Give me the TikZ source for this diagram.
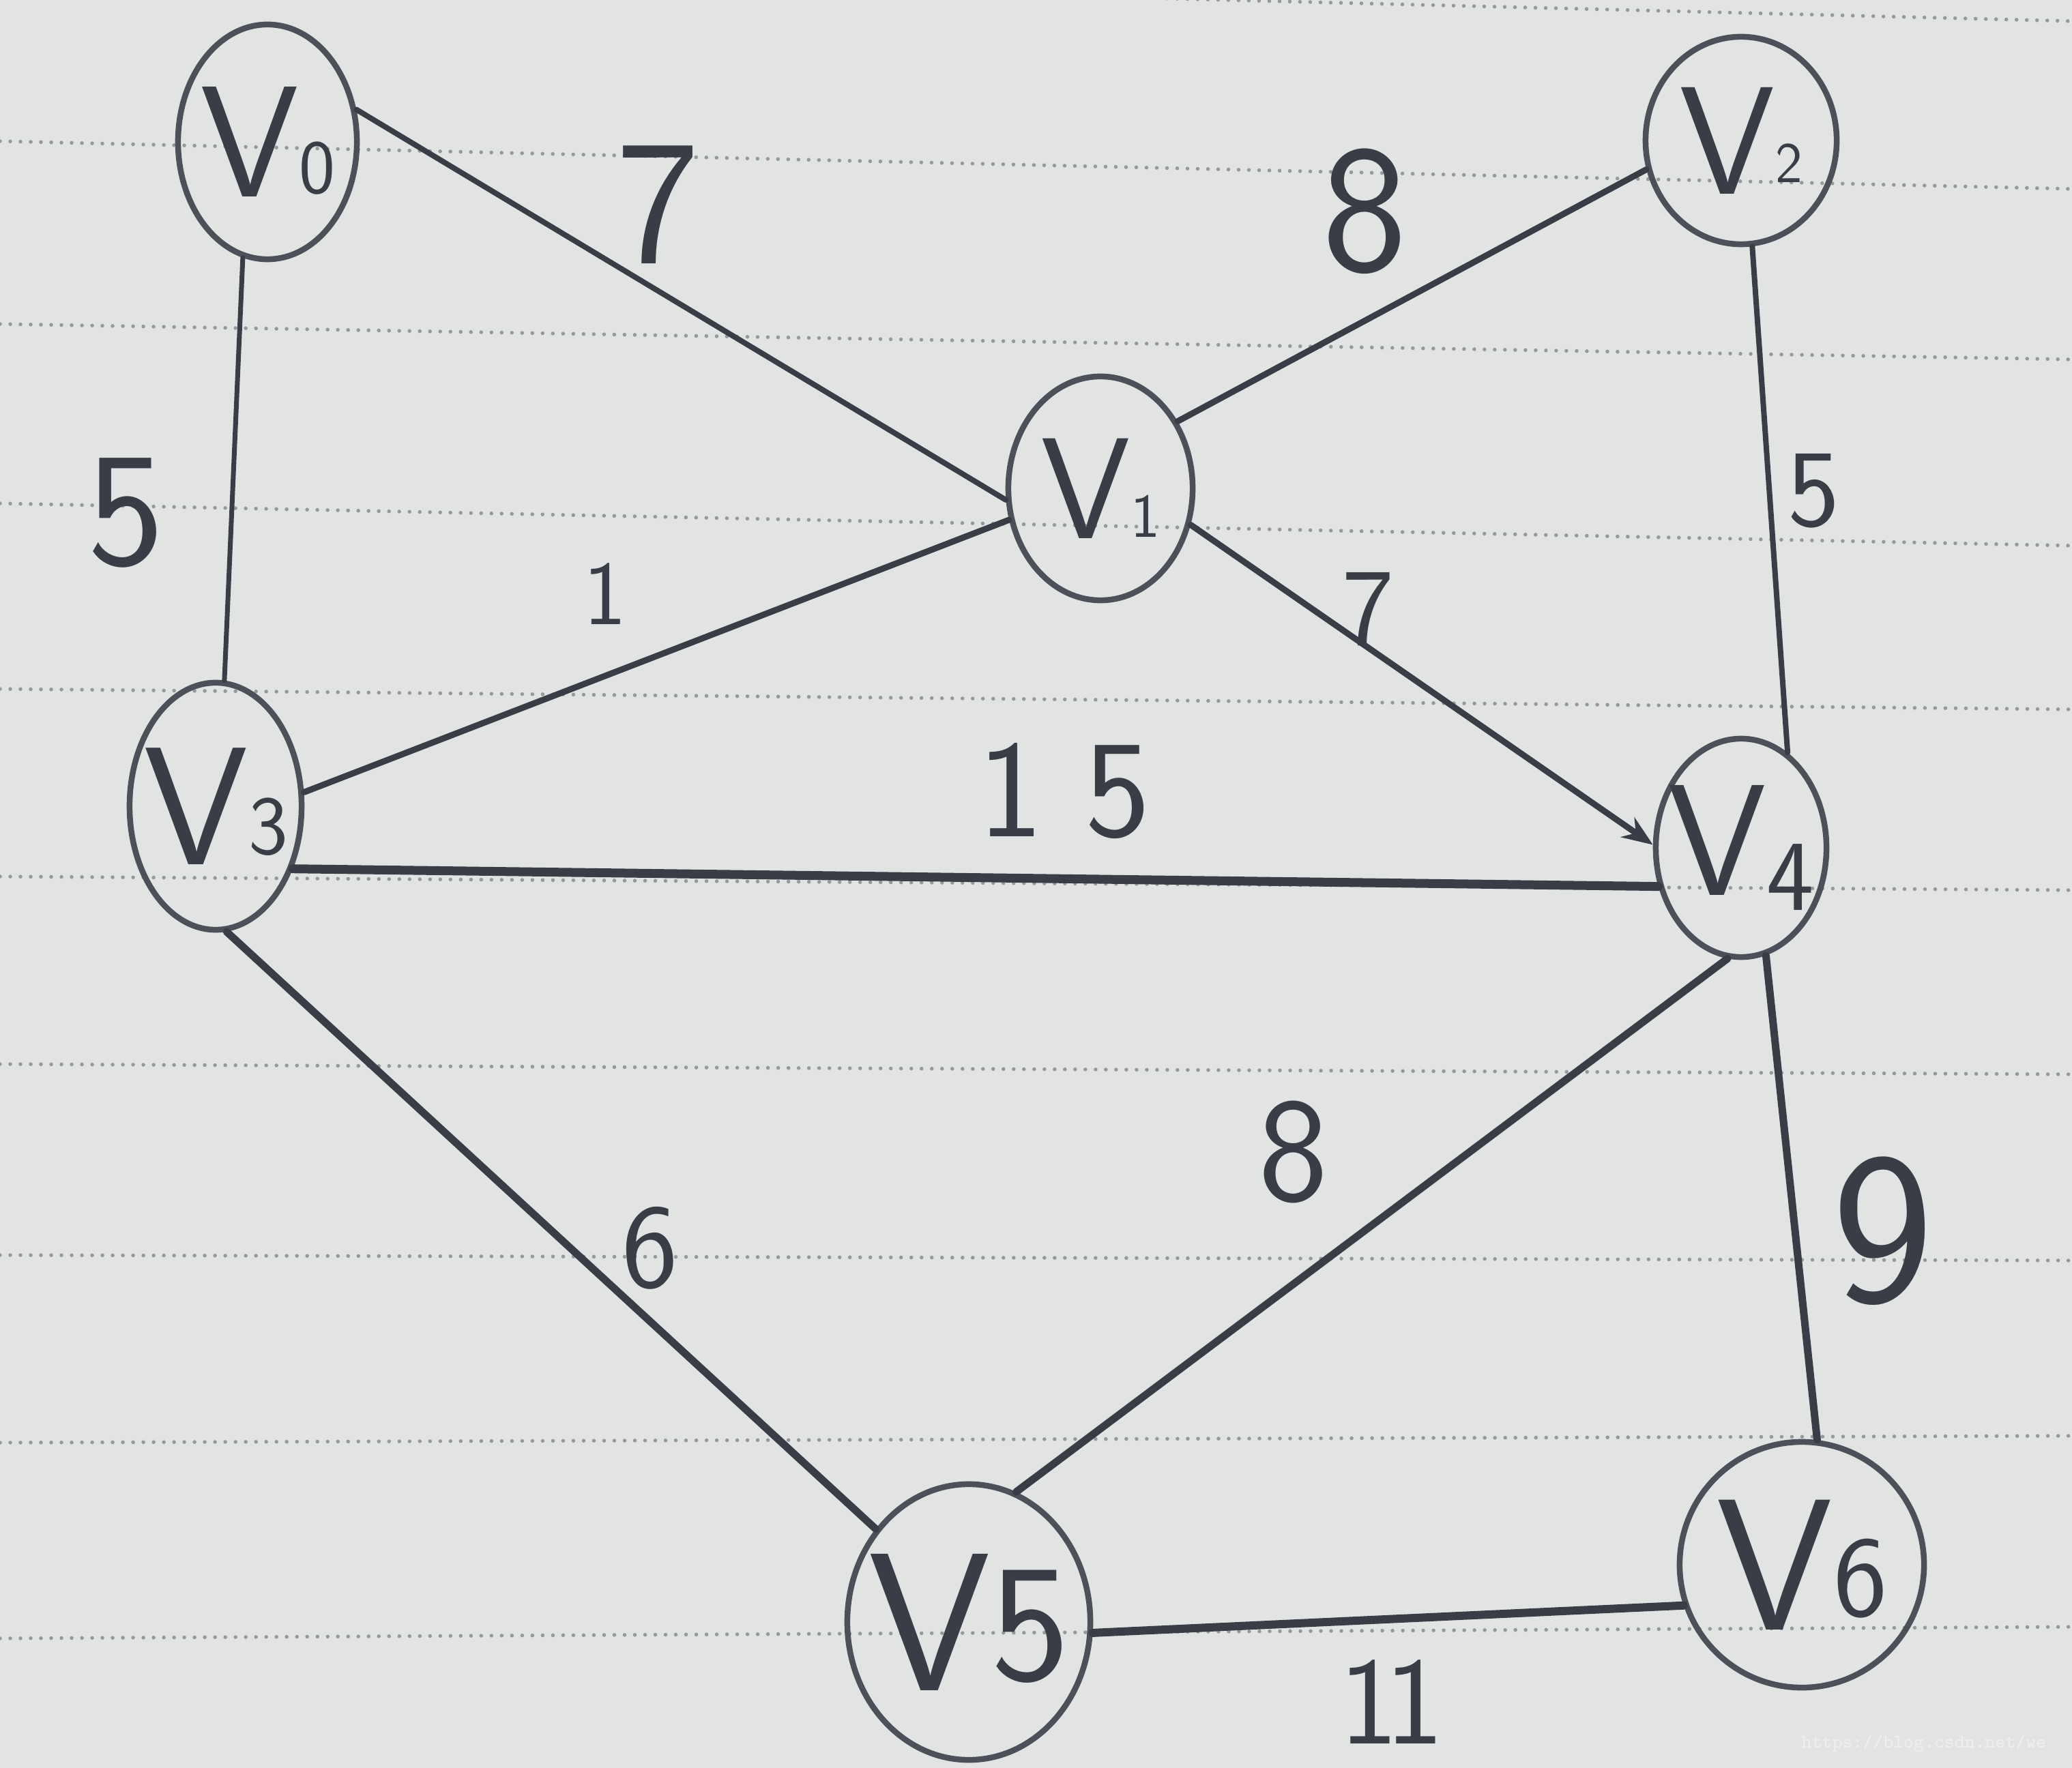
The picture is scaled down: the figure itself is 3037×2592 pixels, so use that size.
\documentclass[tikz,border=0pt]{standalone}
\usepackage{fontspec}
\setmainfont{Latin Modern Sans}
\usetikzlibrary{shapes.geometric,arrows.meta}
\definecolor{paper}{RGB}{226,228,228}
\definecolor{ink}{RGB}{56,61,70}
\definecolor{inkl}{RGB}{76,81,89}
\definecolor{dotc}{RGB}{150,153,154}
\definecolor{wmark}{RGB}{238,240,240}
\newcommand\vlab[4]{\makebox[0pt]{\fontsize{#1}{#1}\selectfont V\raisebox{#4}{\fontsize{#2}{#2}\selectfont #3}}}
\newcommand\fs[1]{\fontsize{#1}{#1}\selectfont}
\begin{document}
\begin{tikzpicture}[x=0.01cm,y=-0.01cm,
  vert/.style={ellipse,draw=inkl,line width=0.085cm,inner sep=0pt,text=ink},
  edge/.style={draw=ink,line width=0.09cm,line cap=round},
  wlabel/.style={text=ink,inner sep=0pt},
  ruled/.style={draw=dotc,line width=0.055cm,line cap=round,dash pattern=on 0pt off 0.15cm}]
\useasboundingbox (0,0) rectangle (3037,2592);
\fill[paper] (0,0) rectangle (3037,2592);
\clip (0,0) rectangle (3037,2592);
% ruled paper lines
\foreach \a/\b in {-45/31, 207/277, 475/527, 738/800, 1010/1040, 1285/1305, 1560/1575, 1840/1848, 2115/2105, 2402/2385}
  \draw[ruled] (0,\a) -- (3037,\b);
% vertices
\node[vert,minimum width=2.62cm,minimum height=3.44cm] (v0) at (392,208) {\vlab{66pt}{32pt}{0}{0.05cm}};
\node[vert,minimum width=2.70cm,minimum height=3.28cm] (v1) at (1613,716) {\vlab{60pt}{26pt}{1}{0.02cm}};
\node[vert,minimum width=2.80cm,minimum height=3.04cm] (v2) at (2552,206) {\vlab{64pt}{24pt}{2}{0.17cm}};
\node[vert,minimum width=2.52cm,minimum height=3.62cm] (v3) at (316,1182) {\vlab{70pt}{35pt}{3}{0.15cm}};
\node[vert,minimum width=2.50cm,minimum height=3.20cm] (v4) at (2552,1243) {\vlab{66pt}{42pt}{4}{-0.22cm}};
\node[vert,minimum width=3.56cm,minimum height=4.04cm] (v5) at (1420,2378) {\vlab{82pt}{70pt}{5}{0.15cm}};
\node[vert,minimum width=3.58cm,minimum height=3.60cm] (v6) at (2641,2294) {\vlab{78pt}{48pt}{6}{0.2cm}};
% edges
\draw[edge,line width=0.08cm] (v0.20) -- (v1.187);
\draw[edge,line width=0.07cm] (v0.258) -- (v3.86);
\draw[edge] (v1.41) -- (v2.197);
\draw[edge] (v1.199) -- (v3.9);
\draw[edge,-{Stealth[length=0.45cm,width=0.35cm]}] (v1.338) -- (v4.178);
\draw[edge,line width=0.08cm] (v2.276) -- (v4.64);
\draw[edge,line width=0.13cm] (v3.321) -- (v4.205);
\draw[edge,line width=0.11cm] (v3.275) -- (v5.135);
\draw[edge,line width=0.11cm] (v4.263) -- (v5.70);
\draw[edge,line width=0.11cm] (v4.283) -- (v6.83);
\draw[edge,line width=0.12cm] (v5.355) -- (v6.199);
% weights
\node[wlabel,font=\fs{74pt}] (l01) at (965,300) {7};
\node[wlabel,font=\fs{76pt}] (l12) at (2000,310) {8};
\node[wlabel,font=\fs{68pt}] (l03) at (185,752) {5};
\node[wlabel,font=\fs{38pt}] (l13) at (887,871) {1};
\node[wlabel,font=\fs{46pt}] (l14) at (2005,893) {7};
\node[wlabel,font=\fs{46pt}] (l24) at (2658,720) {5};
\node[wlabel,font=\fs{58pt}] (l34) at (1560,1160) {1\hspace{0.3em}5};
\node[wlabel,font=\fs{50pt}] (l35) at (953,1830) {6};
\node[wlabel,font=\fs{62pt}] (l45) at (1896,1689) {8};
\node[wlabel,font=\fs{90pt}] (l46) at (2760,1805) {9};
\node[wlabel,font=\fs{52pt}] (l56) at (2040,2495) {1\kern-0.1em1};
% watermark
\node[anchor=west,inner sep=0pt,text=wmark,font=\ttfamily\fs{8pt}] (wm) at (2640,2556) {https://blog.csdn.net/we};
\end{tikzpicture}
\end{document}
